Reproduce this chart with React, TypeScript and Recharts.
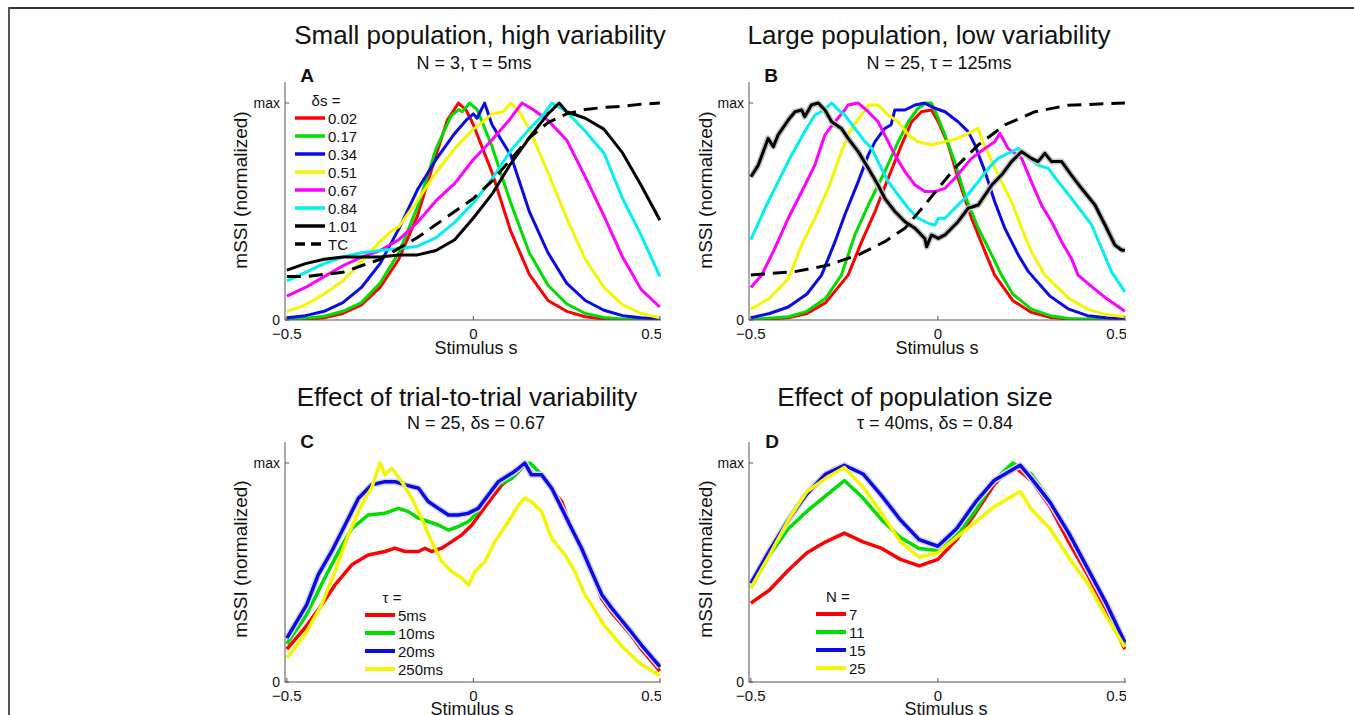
import React from "react";
import { Line, LineChart, XAxis, YAxis } from "recharts";

const FONT = '"Liberation Sans", Arial, Helvetica, sans-serif';

type Pt = [number, number];

// Panel A: N = 3, tau = 5ms  (stimulus s, normalized mSSI)
const aD002: Pt[] = [[-0.5,0],[-0.45,0.003],[-0.4,0.01],[-0.35,0.03],[-0.3,0.07],[-0.25,0.15],[-0.2,0.28],[-0.15,0.48],[-0.1,0.76],[-0.07,0.92],[-0.04,1],[-0.02,0.97],[0,0.9],[0.05,0.68],[0.1,0.41],[0.15,0.21],[0.2,0.09],[0.25,0.04],[0.3,0.015],[0.35,0.005],[0.4,0.001],[0.5,0]];
const aD017: Pt[] = [[-0.5,0.003],[-0.45,0.008],[-0.4,0.017],[-0.35,0.04],[-0.3,0.08],[-0.25,0.17],[-0.2,0.31],[-0.15,0.52],[-0.1,0.79],[-0.06,0.94],[-0.04,0.97],[-0.03,0.96],[-0.01,1],[0.01,0.97],[0.05,0.8],[0.1,0.54],[0.15,0.31],[0.2,0.16],[0.25,0.075],[0.3,0.03],[0.35,0.012],[0.4,0.005],[0.45,0.002],[0.5,0]];
const aD034: Pt[] = [[-0.5,0.01],[-0.45,0.02],[-0.4,0.04],[-0.35,0.08],[-0.3,0.15],[-0.25,0.26],[-0.2,0.42],[-0.15,0.6],[-0.1,0.74],[-0.05,0.86],[-0.02,0.92],[0,0.95],[0.01,0.93],[0.03,1],[0.05,0.9],[0.1,0.76],[0.15,0.5],[0.2,0.31],[0.25,0.17],[0.3,0.09],[0.35,0.045],[0.4,0.02],[0.45,0.01],[0.5,0.005]];
const aD051: Pt[] = [[-0.5,0.04],[-0.45,0.07],[-0.4,0.12],[-0.35,0.18],[-0.3,0.27],[-0.25,0.36],[-0.22,0.41],[-0.2,0.43],[-0.15,0.55],[-0.1,0.68],[-0.05,0.79],[0,0.88],[0.03,0.92],[0.05,0.95],[0.08,0.96],[0.1,1],[0.12,0.97],[0.15,0.88],[0.2,0.68],[0.25,0.47],[0.3,0.28],[0.35,0.15],[0.4,0.07],[0.45,0.03],[0.5,0.01]];
const aD067: Pt[] = [[-0.5,0.11],[-0.45,0.15],[-0.4,0.2],[-0.35,0.25],[-0.3,0.29],[-0.25,0.32],[-0.2,0.37],[-0.15,0.45],[-0.1,0.55],[-0.05,0.63],[0,0.74],[0.05,0.83],[0.1,0.93],[0.13,1],[0.16,0.97],[0.2,0.92],[0.25,0.83],[0.3,0.66],[0.35,0.48],[0.4,0.29],[0.45,0.14],[0.5,0.06]];
const aD084: Pt[] = [[-0.5,0.18],[-0.45,0.22],[-0.4,0.26],[-0.35,0.29],[-0.3,0.31],[-0.25,0.32],[-0.2,0.33],[-0.15,0.34],[-0.1,0.38],[-0.05,0.45],[0,0.54],[0.05,0.65],[0.1,0.78],[0.15,0.88],[0.19,0.95],[0.21,1],[0.25,0.96],[0.3,0.87],[0.35,0.77],[0.4,0.56],[0.45,0.39],[0.5,0.2]];
const aD101: Pt[] = [[-0.5,0.23],[-0.45,0.26],[-0.4,0.28],[-0.35,0.29],[-0.3,0.29],[-0.25,0.29],[-0.2,0.3],[-0.15,0.3],[-0.1,0.32],[-0.05,0.37],[0,0.47],[0.05,0.58],[0.1,0.72],[0.15,0.84],[0.2,0.95],[0.23,1],[0.25,0.96],[0.3,0.93],[0.35,0.88],[0.4,0.77],[0.45,0.62],[0.5,0.46]];
const aTC: Pt[] = [[-0.5,0.2],[-0.45,0.2],[-0.4,0.21],[-0.35,0.22],[-0.3,0.25],[-0.25,0.28],[-0.2,0.33],[-0.15,0.38],[-0.1,0.44],[-0.05,0.5],[0,0.56],[0.05,0.64],[0.1,0.74],[0.15,0.84],[0.2,0.91],[0.25,0.95],[0.3,0.97],[0.35,0.98],[0.4,0.985],[0.45,0.995],[0.5,1]];

// Panel B: N = 25, tau = 125ms
const bD002: Pt[] = [[-0.5,0],[-0.4,0.01],[-0.35,0.03],[-0.3,0.08],[-0.24,0.207],[-0.204,0.36],[-0.168,0.5],[-0.133,0.653],[-0.097,0.807],[-0.07,0.914],[-0.044,0.96],[-0.017,0.968],[0.001,0.914],[0.028,0.807],[0.054,0.653],[0.09,0.469],[0.126,0.315],[0.152,0.207],[0.2,0.09],[0.25,0.035],[0.3,0.012],[0.35,0.004],[0.5,0]];
const bD017: Pt[] = [[-0.5,0.002],[-0.4,0.015],[-0.35,0.04],[-0.3,0.1],[-0.258,0.207],[-0.222,0.392],[-0.186,0.53],[-0.142,0.684],[-0.106,0.822],[-0.079,0.914],[-0.053,0.976],[-0.03,1],[-0.017,1],[0.001,0.93],[0.019,0.853],[0.045,0.73],[0.072,0.576],[0.108,0.423],[0.144,0.3],[0.17,0.207],[0.2,0.12],[0.25,0.05],[0.3,0.02],[0.35,0.007],[0.5,0]];
const bD034: Pt[] = [[-0.5,0.01],[-0.45,0.03],[-0.4,0.06],[-0.35,0.12],[-0.311,0.207],[-0.275,0.361],[-0.249,0.484],[-0.213,0.638],[-0.186,0.761],[-0.168,0.822],[-0.142,0.883],[-0.125,0.9],[-0.115,0.968],[-0.088,0.968],[-0.061,0.991],[-0.035,1],[-0.008,0.976],[0.019,0.96],[0.054,0.914],[0.081,0.868],[0.099,0.807],[0.126,0.684],[0.152,0.545],[0.179,0.423],[0.215,0.3],[0.242,0.223],[0.3,0.11],[0.35,0.05],[0.4,0.02],[0.45,0.01],[0.5,0.005]];
const bD051: Pt[] = [[-0.5,0.05],[-0.45,0.1],[-0.4,0.19],[-0.364,0.346],[-0.329,0.469],[-0.293,0.607],[-0.258,0.776],[-0.231,0.883],[-0.204,0.945],[-0.186,0.991],[-0.16,0.991],[-0.133,0.945],[-0.106,0.914],[-0.079,0.853],[-0.053,0.822],[-0.017,0.807],[0.019,0.822],[0.054,0.837],[0.09,0.868],[0.108,0.883],[0.117,0.837],[0.144,0.73],[0.17,0.638],[0.197,0.545],[0.224,0.423],[0.25,0.315],[0.286,0.207],[0.35,0.1],[0.4,0.05],[0.45,0.025],[0.5,0.015]];
const bD067: Pt[] = [[-0.5,0.15],[-0.471,0.207],[-0.436,0.33],[-0.4,0.469],[-0.364,0.591],[-0.329,0.714],[-0.302,0.853],[-0.275,0.914],[-0.249,0.968],[-0.24,0.991],[-0.213,1],[-0.186,0.96],[-0.16,0.914],[-0.142,0.853],[-0.115,0.761],[-0.088,0.684],[-0.061,0.622],[-0.035,0.592],[-0.008,0.592],[0.019,0.607],[0.045,0.653],[0.09,0.745],[0.126,0.791],[0.152,0.822],[0.166,0.86],[0.188,0.79],[0.224,0.745],[0.25,0.638],[0.277,0.53],[0.304,0.453],[0.331,0.36],[0.357,0.284],[0.375,0.207],[0.4,0.17],[0.45,0.1],[0.5,0.04]];
const bD084: Pt[] = [[-0.5,0.37],[-0.462,0.515],[-0.427,0.638],[-0.391,0.761],[-0.356,0.868],[-0.329,0.945],[-0.311,0.96],[-0.284,1],[-0.266,0.968],[-0.249,0.945],[-0.222,0.883],[-0.195,0.822],[-0.177,0.791],[-0.16,0.73],[-0.133,0.638],[-0.106,0.576],[-0.079,0.515],[-0.053,0.469],[-0.026,0.446],[-0.008,0.438],[0.001,0.469],[0.019,0.469],[0.045,0.515],[0.072,0.561],[0.108,0.638],[0.135,0.699],[0.161,0.745],[0.188,0.768],[0.215,0.791],[0.242,0.745],[0.268,0.714],[0.295,0.699],[0.322,0.638],[0.357,0.561],[0.384,0.5],[0.411,0.438],[0.438,0.33],[0.464,0.223],[0.5,0.13]];
const bD101: Pt[] = [[-0.5,0.66],[-0.48,0.714],[-0.454,0.837],[-0.44,0.799],[-0.427,0.853],[-0.4,0.922],[-0.382,0.96],[-0.364,0.968],[-0.356,0.937],[-0.338,0.991],[-0.32,1],[-0.302,0.968],[-0.284,0.914],[-0.258,0.883],[-0.24,0.837],[-0.213,0.776],[-0.186,0.699],[-0.16,0.622],[-0.142,0.561],[-0.115,0.5],[-0.088,0.453],[-0.061,0.423],[-0.035,0.376],[-0.03,0.338],[-0.017,0.392],[0.001,0.376],[0.019,0.392],[0.054,0.453],[0.081,0.515],[0.108,0.53],[0.144,0.622],[0.17,0.668],[0.197,0.73],[0.224,0.776],[0.25,0.745],[0.268,0.73],[0.286,0.768],[0.304,0.73],[0.331,0.73],[0.357,0.668],[0.384,0.607],[0.42,0.53],[0.447,0.438],[0.473,0.346],[0.491,0.323],[0.5,0.32]];
const bTC: Pt[] = [[-0.5,0.207],[-0.382,0.223],[-0.293,0.253],[-0.213,0.3],[-0.142,0.361],[-0.088,0.423],[-0.035,0.53],[0.001,0.607],[0.045,0.699],[0.108,0.807],[0.179,0.899],[0.26,0.96],[0.348,0.99],[0.5,1]];

// Panel C: N = 25, ds = 0.67, different tau
const cT5: Pt[] = [[-0.5,0.15],[-0.45,0.25],[-0.407,0.352],[-0.371,0.443],[-0.326,0.535],[-0.282,0.58],[-0.237,0.596],[-0.21,0.611],[-0.183,0.596],[-0.147,0.596],[-0.13,0.611],[-0.112,0.596],[-0.085,0.611],[-0.058,0.641],[-0.031,0.672],[-0.004,0.717],[0.022,0.778],[0.049,0.839],[0.076,0.9],[0.112,0.946],[0.138,0.99],[0.156,0.95],[0.183,0.94],[0.21,0.88],[0.237,0.824],[0.263,0.7],[0.29,0.61],[0.317,0.5],[0.344,0.38],[0.374,0.31],[0.42,0.22],[0.45,0.15],[0.5,0.05]];
const cT10: Pt[] = [[-0.5,0.175],[-0.45,0.3],[-0.42,0.4],[-0.4,0.47],[-0.36,0.6],[-0.326,0.7],[-0.282,0.763],[-0.237,0.771],[-0.201,0.793],[-0.174,0.778],[-0.147,0.748],[-0.121,0.733],[-0.094,0.717],[-0.067,0.694],[-0.04,0.71],[-0.013,0.733],[0.013,0.778],[0.04,0.854],[0.067,0.9],[0.103,0.93],[0.138,0.991],[0.152,1],[0.183,0.946],[0.21,0.885],[0.237,0.793],[0.263,0.702],[0.29,0.611],[0.317,0.504],[0.344,0.39],[0.374,0.32],[0.42,0.225],[0.45,0.16],[0.5,0.065]];
const cT20: Pt[] = [[-0.5,0.2],[-0.447,0.352],[-0.416,0.489],[-0.38,0.596],[-0.344,0.717],[-0.308,0.839],[-0.273,0.9],[-0.237,0.915],[-0.21,0.915],[-0.183,0.9],[-0.147,0.885],[-0.121,0.824],[-0.094,0.793],[-0.067,0.763],[-0.04,0.763],[-0.013,0.771],[0.013,0.793],[0.04,0.854],[0.067,0.915],[0.103,0.953],[0.121,0.976],[0.138,1],[0.156,0.946],[0.183,0.946],[0.21,0.885],[0.237,0.793],[0.263,0.702],[0.29,0.611],[0.317,0.504],[0.344,0.4],[0.374,0.33],[0.42,0.235],[0.45,0.17],[0.5,0.07]];
const cT250: Pt[] = [[-0.5,0.11],[-0.45,0.22],[-0.407,0.352],[-0.371,0.504],[-0.335,0.672],[-0.3,0.809],[-0.273,0.885],[-0.25,1],[-0.237,0.946],[-0.219,0.976],[-0.192,0.915],[-0.165,0.839],[-0.139,0.748],[-0.112,0.641],[-0.085,0.55],[-0.058,0.504],[-0.031,0.474],[-0.013,0.443],[0.004,0.504],[0.031,0.55],[0.058,0.641],[0.094,0.733],[0.121,0.809],[0.138,0.839],[0.156,0.824],[0.183,0.778],[0.21,0.656],[0.246,0.58],[0.272,0.504],[0.299,0.398],[0.317,0.352],[0.35,0.26],[0.4,0.16],[0.45,0.08],[0.5,0.03]];

// Panel D: tau = 40ms, ds = 0.84, different N
const dN7: Pt[] = [[-0.5,0.36],[-0.45,0.42],[-0.4,0.51],[-0.35,0.59],[-0.3,0.64],[-0.25,0.68],[-0.2,0.64],[-0.15,0.61],[-0.1,0.56],[-0.05,0.53],[0,0.56],[0.05,0.65],[0.1,0.77],[0.15,0.9],[0.2,0.99],[0.25,0.92],[0.3,0.8],[0.35,0.64],[0.4,0.49],[0.45,0.33],[0.5,0.15]];
const dN11: Pt[] = [[-0.5,0.43],[-0.45,0.58],[-0.4,0.7],[-0.35,0.78],[-0.3,0.85],[-0.25,0.92],[-0.2,0.84],[-0.15,0.74],[-0.1,0.66],[-0.05,0.61],[0,0.6],[0.05,0.67],[0.1,0.78],[0.15,0.92],[0.2,1],[0.25,0.95],[0.3,0.83],[0.35,0.68],[0.4,0.51],[0.45,0.35],[0.5,0.17]];
const dN15: Pt[] = [[-0.5,0.45],[-0.45,0.6],[-0.4,0.74],[-0.35,0.86],[-0.3,0.95],[-0.25,0.99],[-0.2,0.95],[-0.15,0.85],[-0.1,0.74],[-0.05,0.65],[0,0.62],[0.05,0.7],[0.1,0.82],[0.15,0.92],[0.2,0.97],[0.22,0.99],[0.25,0.93],[0.3,0.82],[0.35,0.68],[0.4,0.52],[0.45,0.36],[0.5,0.18]];
const dN25: Pt[] = [[-0.5,0.43],[-0.45,0.58],[-0.4,0.74],[-0.35,0.87],[-0.3,0.93],[-0.25,0.98],[-0.2,0.89],[-0.15,0.77],[-0.1,0.64],[-0.05,0.57],[0,0.59],[0.05,0.66],[0.1,0.73],[0.15,0.8],[0.2,0.85],[0.22,0.87],[0.25,0.79],[0.3,0.7],[0.35,0.57],[0.4,0.45],[0.45,0.3],[0.5,0.16]];

const dsLabels = ["0.02", "0.17", "0.34", "0.51", "0.67", "0.84", "1.01", "TC"];
const tauLabels = ["5ms", "10ms", "20ms", "250ms"];
const nLabels = ["7", "11", "15", "25"];

const RED = "#ff0000";
const GREEN = "#00dd00";
const BLUE = "#0a0ae6";
const YELLOW = "#f5f500";
const MAGENTA = "#ff00ff";
const CYAN = "#00f0f0";
const BLACK = "#000000";

type Series = { name: string; pts: Pt[]; color: string; width: number; dash?: string; halo?: string };

const toRows = (pts: Pt[]) => pts.map(([s, v]) => ({ s, v }));

const panelA: Series[] = [
  { name: "0.02", pts: aD002, color: RED, width: 3 },
  { name: "0.17", pts: aD017, color: GREEN, width: 3 },
  { name: "0.34", pts: aD034, color: BLUE, width: 3 },
  { name: "0.51", pts: aD051, color: YELLOW, width: 3 },
  { name: "0.67", pts: aD067, color: MAGENTA, width: 3 },
  { name: "0.84", pts: aD084, color: CYAN, width: 3 },
  { name: "1.01", pts: aD101, color: BLACK, width: 3 },
  { name: "TC", pts: aTC, color: BLACK, width: 3, dash: "14 8" },
];
const panelB: Series[] = [
  { name: "0.02", pts: bD002, color: RED, width: 3 },
  { name: "0.17", pts: bD017, color: GREEN, width: 3 },
  { name: "0.34", pts: bD034, color: BLUE, width: 3 },
  { name: "0.51", pts: bD051, color: YELLOW, width: 3 },
  { name: "0.67", pts: bD067, color: MAGENTA, width: 3 },
  { name: "0.84", pts: bD084, color: CYAN, width: 3 },
  { name: "1.01", pts: bD101, color: BLACK, width: 3, halo: "#c4c4c4" },
  { name: "TC", pts: bTC, color: BLACK, width: 3, dash: "14 8" },
];
const panelC: Series[] = [
  { name: "5ms", pts: cT5, color: RED, width: 3.5 },
  { name: "10ms", pts: cT10, color: GREEN, width: 3.5 },
  { name: "20ms", pts: cT20, color: BLUE, width: 3.5, halo: "#d4d4f4" },
  { name: "250ms", pts: cT250, color: YELLOW, width: 3.5 },
];
const panelD: Series[] = [
  { name: "7", pts: dN7, color: RED, width: 3.5 },
  { name: "11", pts: dN11, color: GREEN, width: 3.5 },
  { name: "15", pts: dN15, color: BLUE, width: 3.5, halo: "#d4d4f4" },
  { name: "25", pts: dN25, color: YELLOW, width: 3.5 },
];

const fmtX = (v: number) => (v < 0 ? "\u22120.5" : v > 0 ? "0.5" : "0");
const fmtY = (v: number) => (v >= 1 ? "max" : "0");

function Panel(props: { plotLeft: number; plotTop: number; plotW: number; plotH: number; yTop: number; series: Series[] }) {
  const { plotLeft, plotTop, plotW, plotH, yTop, series } = props;
  return (
    <div style={{ position: "absolute", left: plotLeft - 40, top: plotTop }}>
      <LineChart width={plotW + 40} height={plotH + 30} margin={{ top: 0, right: 0, bottom: 0, left: 0 }}>
        <XAxis
          type="number"
          dataKey="s"
          domain={[-0.505, 0.503]}
          ticks={[-0.5, 0, 0.5]}
          allowDataOverflow
          tickFormatter={fmtX}
          height={30}
          stroke="#555"
          tickSize={-4}
          tickMargin={12}
          tick={{ fill: "#111", fontSize: 15, fontFamily: FONT }}
        />
        <YAxis
          type="number"
          dataKey="v"
          domain={[0, yTop]}
          ticks={[0, 1]}
          allowDataOverflow
          tickFormatter={fmtY}
          width={40}
          stroke="#555"
          tickSize={-4}
          tickMargin={9}
          tick={{ fill: "#111", fontSize: 14, fontFamily: FONT }}
        />
        {series.flatMap((sr, i) => {
          const rows = toRows(sr.pts);
          const out = [];
          if (sr.halo) {
            out.push(
              <Line key={`h${i}`} data={rows} dataKey="v" type="linear" dot={false} activeDot={false}
                stroke={sr.halo} strokeWidth={sr.width + 3} strokeLinejoin="round" isAnimationActive={false} />
            );
          }
          out.push(
            <Line key={`l${i}`} data={rows} dataKey="v" name={sr.name} type="linear" dot={false} activeDot={false}
              stroke={sr.color} strokeWidth={sr.width} strokeDasharray={sr.dash} strokeLinejoin="round"
              isAnimationActive={false} />
          );
          return out;
        })}
      </LineChart>
    </div>
  );
}

function Txt(props: { x: number; y: number; size: number; bold?: boolean; rotate?: boolean; children: React.ReactNode }) {
  const { x, y, size, bold, rotate, children } = props;
  return (
    <div
      style={{
        position: "absolute",
        left: x,
        top: y,
        transform: `translate(-50%, -50%)${rotate ? " rotate(-90deg)" : ""}`,
        fontSize: size,
        fontWeight: bold ? 700 : 400,
        lineHeight: 1,
        whiteSpace: "nowrap",
        color: "#111",
      }}
    >
      {children}
    </div>
  );
}

function LegendBox(props: { x: number; y: number; title: string; labels: string[]; colors: string[]; dashes?: (string | undefined)[]; lineW: number; rowH: number; titleX: number }) {
  const { x, y, title, labels, colors, dashes, lineW, rowH, titleX } = props;
  return (
    <>
      <Txt x={titleX} y={y} size={15}>{title}</Txt>
      {labels.map((lb, i) => (
        <div key={lb} style={{ position: "absolute", left: x, top: y + rowH * (i + 1) - 8, height: 16, display: "flex", alignItems: "center" }}>
          <svg width={31} height={8} style={{ display: "block" }}>
            <line x1={0} y1={4} x2={30} y2={4} stroke={colors[i]} strokeWidth={lineW} strokeDasharray={dashes ? dashes[i] : undefined} />
          </svg>
          <span style={{ fontSize: 15, lineHeight: 1, marginLeft: 2, color: "#111" }}>{lb}</span>
        </div>
      ))}
    </>
  );
}

export default function App() {
  return (
    <div style={{ position: "absolute", left: 0, top: 0, width: 1354, height: 715, background: "#fff", overflow: "hidden", fontFamily: FONT }}>
      <div style={{ position: "absolute", left: 8, top: 7, width: 1346, height: 2, background: "#333" }} />
      <div style={{ position: "absolute", left: 8, top: 7, width: 2, height: 708, background: "#555" }} />

      <Panel plotLeft={285} plotTop={82} plotW={376} plotH={238} yTop={1.097} series={panelA} />
      <Panel plotLeft={749} plotTop={82} plotW={377} plotH={238} yTop={1.097} series={panelB} />
      <Panel plotLeft={285} plotTop={442} plotW={376} plotH={240} yTop={1.096} series={panelC} />
      <Panel plotLeft={749} plotTop={442} plotW={377} plotH={240} yTop={1.096} series={panelD} />

      <Txt x={480} y={35} size={26}>Small population, high variability</Txt>
      <Txt x={474} y={63} size={18}>N = 3, τ = 5ms</Txt>
      <Txt x={307} y={75} size={19} bold>A</Txt>
      <Txt x={240} y={190} size={19} rotate>mSSI (normalized)</Txt>
      <Txt x={476} y={348} size={18}>Stimulus s</Txt>

      <Txt x={929} y={35} size={26}>Large population, low variability</Txt>
      <Txt x={939} y={63} size={18}>N = 25, τ = 125ms</Txt>
      <Txt x={771} y={75} size={19} bold>B</Txt>
      <Txt x={705} y={190} size={19} rotate>mSSI (normalized)</Txt>
      <Txt x={937} y={348} size={18}>Stimulus s</Txt>

      <Txt x={467} y={397} size={26}>Effect of trial-to-trial variability</Txt>
      <Txt x={476} y={423} size={18}>N = 25, δs = 0.67</Txt>
      <Txt x={307} y={441} size={19} bold>C</Txt>
      <Txt x={240} y={559} size={19} rotate>mSSI (normalized)</Txt>
      <Txt x={472} y={709} size={18}>Stimulus s</Txt>

      <Txt x={915} y={397} size={26}>Effect of population size</Txt>
      <Txt x={935} y={423} size={18}>τ = 40ms, δs = 0.84</Txt>
      <Txt x={772} y={441} size={19} bold>D</Txt>
      <Txt x={705} y={559} size={19} rotate>mSSI (normalized)</Txt>
      <Txt x={946} y={709} size={18}>Stimulus s</Txt>

      <LegendBox x={295} y={100} titleX={326} title="δs =" labels={dsLabels}
        colors={panelA.map((s) => s.color)} dashes={panelA.map((s) => (s.dash ? "10 6" : undefined))} lineW={3.5} rowH={18} />
      <LegendBox x={365} y={597} titleX={392} title="τ =" labels={tauLabels}
        colors={panelC.map((s) => s.color)} lineW={4} rowH={18} />
      <LegendBox x={816} y={596} titleX={838} title="N =" labels={nLabels}
        colors={panelD.map((s) => s.color)} lineW={4} rowH={18} />
    </div>
  );
}
